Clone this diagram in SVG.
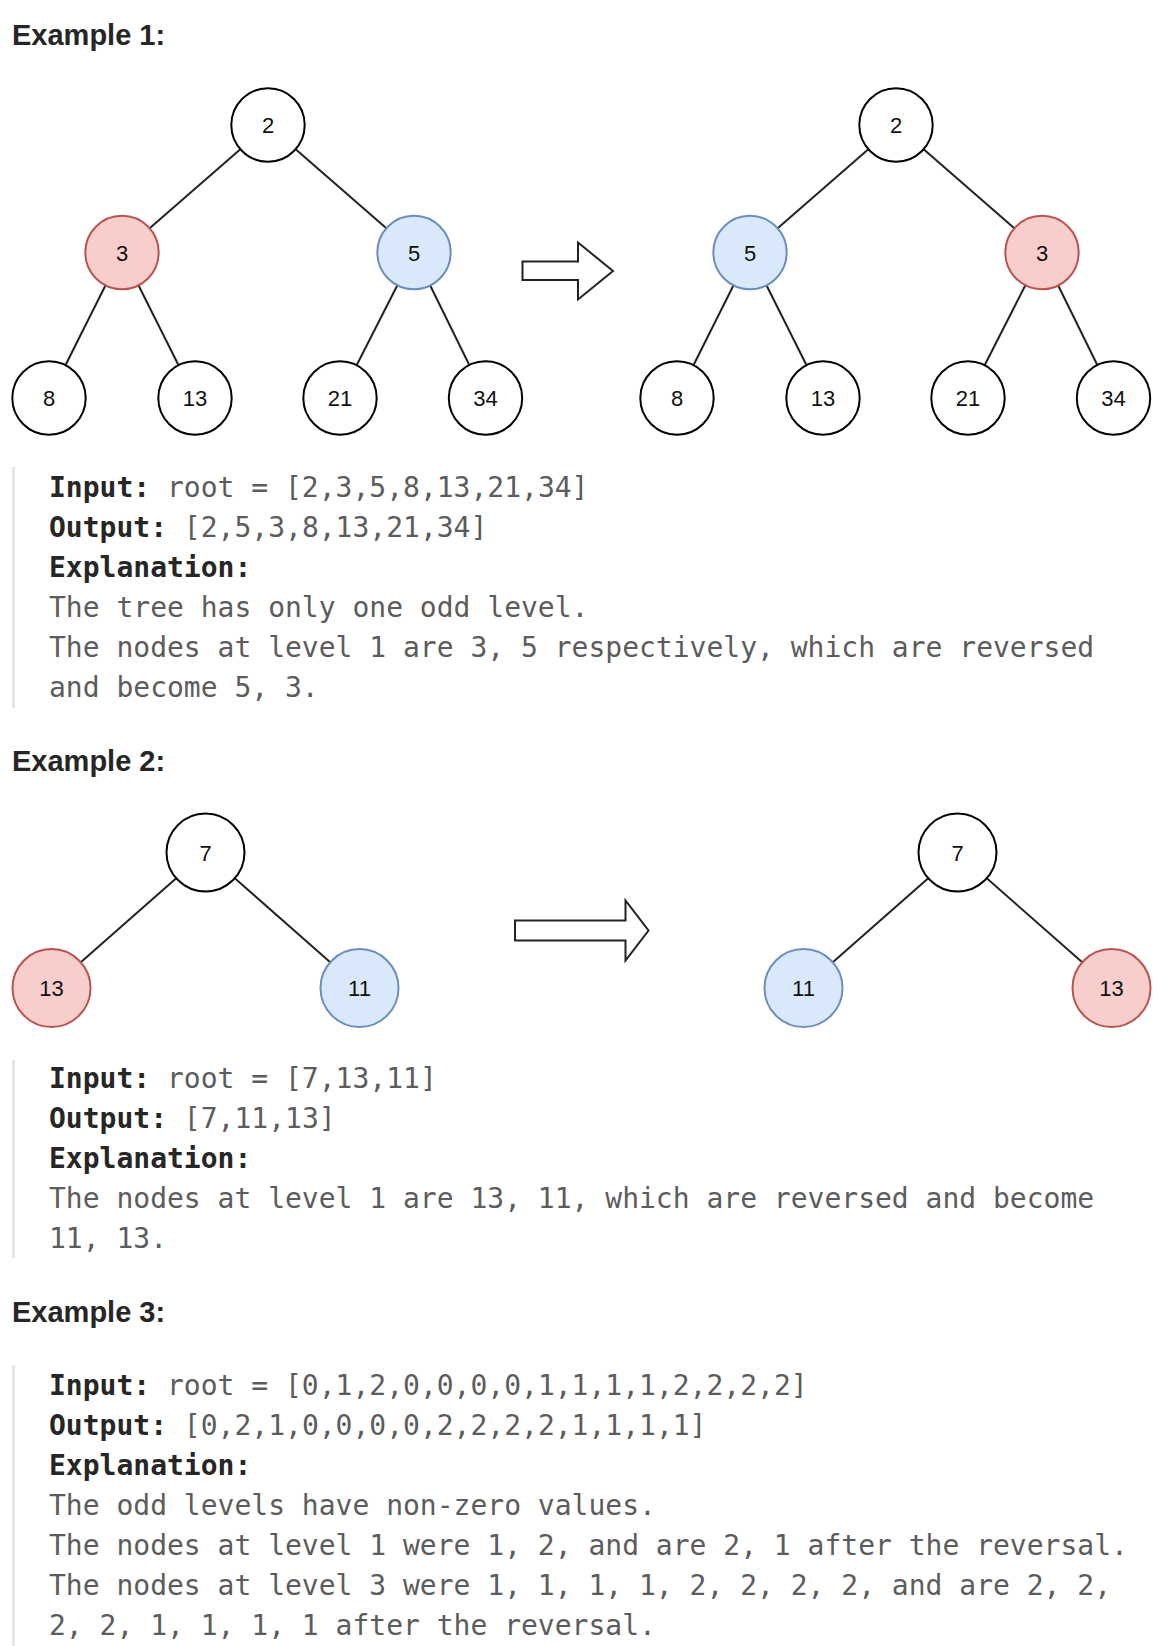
<svg xmlns="http://www.w3.org/2000/svg" width="1166" height="1646" viewBox="0 0 1166 1646">
<style>
.h{font-family:"Liberation Sans",Arial,sans-serif;font-weight:bold;font-size:29px;fill:#262626}
.n{fill:#fff;stroke:#000;stroke-width:2}
.r{fill:#f8cecc;stroke:#b85450;stroke-width:2}
.b{fill:#dae8fc;stroke:#6c8ebf;stroke-width:2}
.t{font-family:"Liberation Sans",Helvetica,Arial,sans-serif;font-size:22px;fill:#111;text-anchor:middle}
.e line{stroke:#222;stroke-width:2}
.arrow{fill:#fff;stroke:#222;stroke-width:2;stroke-linejoin:miter}
.code{font-family:"DejaVu Sans Mono",Menlo,monospace;font-size:28px;fill:#5c5c5c;white-space:pre}
.lbl{font-weight:bold;fill:#262626}
.bar{fill:#e5e5e5}
</style>
<rect width="1166" height="1646" fill="#fff"/>

<text class="h" x="12" y="45">Example 1:</text>
<text class="h" x="12" y="771">Example 2:</text>
<text class="h" x="12" y="1322">Example 3:</text>

<g id="connectors" class="e">
<line x1="240.35" y1="149.14" x2="149.65" y2="228.36"/>
<line x1="295.65" y1="149.14" x2="386.35" y2="228.36"/>
<line x1="105.54" y1="285.3" x2="65.46" y2="365.2"/>
<line x1="138.46" y1="285.3" x2="178.54" y2="365.2"/>
<line x1="397.36" y1="285.21" x2="356.64" y2="365.29"/>
<line x1="430.19" y1="285.44" x2="469.31" y2="365.06"/>
<line x1="868.35" y1="149.14" x2="777.65" y2="228.36"/>
<line x1="923.65" y1="149.14" x2="1014.35" y2="228.36"/>
<line x1="733.54" y1="285.3" x2="693.46" y2="365.2"/>
<line x1="766.46" y1="285.3" x2="806.54" y2="365.2"/>
<line x1="1025.36" y1="285.21" x2="984.64" y2="365.29"/>
<line x1="1058.19" y1="285.44" x2="1097.31" y2="365.06"/>
<line x1="176.22" y1="878.26" x2="80.78" y2="962.24"/>
<line x1="234.78" y1="878.26" x2="330.22" y2="962.24"/>
<line x1="928.22" y1="878.26" x2="832.78" y2="962.24"/>
<line x1="986.78" y1="878.26" x2="1082.22" y2="962.24"/>
</g>

<g id="arrow1"><polygon class="arrow" points="522.5,261.5 578,261.5 578,242.5 613,271 578,299.5 578,280 522.5,280"/></g>
<g id="arrow2"><polygon class="arrow" points="515,920.5 625.5,920.5 625.5,900.5 648.5,930.5 625.5,960.5 625.5,940.5 515,940.5"/></g>

<g id="ex1-left-2"><circle class="n" cx="268" cy="125" r="36.7"/><text class="t" x="268" y="133">2</text></g>
<g id="ex1-left-3"><circle class="r" cx="122" cy="252.5" r="36.7"/><text class="t" x="122" y="260.5">3</text></g>
<g id="ex1-left-5"><circle class="b" cx="414" cy="252.5" r="36.7"/><text class="t" x="414" y="260.5">5</text></g>
<g id="ex1-left-8"><circle class="n" cx="49" cy="398" r="36.7"/><text class="t" x="49" y="406">8</text></g>
<g id="ex1-left-13"><circle class="n" cx="195" cy="398" r="36.7"/><text class="t" x="195" y="406">13</text></g>
<g id="ex1-left-21"><circle class="n" cx="340" cy="398" r="36.7"/><text class="t" x="340" y="406">21</text></g>
<g id="ex1-left-34"><circle class="n" cx="485.5" cy="398" r="36.7"/><text class="t" x="485.5" y="406">34</text></g>

<g id="ex1-right-2"><circle class="n" cx="896" cy="125" r="36.7"/><text class="t" x="896" y="133">2</text></g>
<g id="ex1-right-5"><circle class="b" cx="750" cy="252.5" r="36.7"/><text class="t" x="750" y="260.5">5</text></g>
<g id="ex1-right-3"><circle class="r" cx="1042" cy="252.5" r="36.7"/><text class="t" x="1042" y="260.5">3</text></g>
<g id="ex1-right-8"><circle class="n" cx="677" cy="398" r="36.7"/><text class="t" x="677" y="406">8</text></g>
<g id="ex1-right-13"><circle class="n" cx="823" cy="398" r="36.7"/><text class="t" x="823" y="406">13</text></g>
<g id="ex1-right-21"><circle class="n" cx="968" cy="398" r="36.7"/><text class="t" x="968" y="406">21</text></g>
<g id="ex1-right-34"><circle class="n" cx="1113.5" cy="398" r="36.7"/><text class="t" x="1113.5" y="406">34</text></g>

<g id="ex2-left-7"><circle class="n" cx="205.5" cy="852.5" r="39"/><text class="t" x="205.5" y="860.5">7</text></g>
<g id="ex2-left-13"><circle class="r" cx="51.5" cy="988" r="39"/><text class="t" x="51.5" y="996">13</text></g>
<g id="ex2-left-11"><circle class="b" cx="359.5" cy="988" r="39"/><text class="t" x="359.5" y="996">11</text></g>
<g id="ex2-right-7"><circle class="n" cx="957.5" cy="852.5" r="39"/><text class="t" x="957.5" y="860.5">7</text></g>
<g id="ex2-right-11"><circle class="b" cx="803.5" cy="988" r="39"/><text class="t" x="803.5" y="996">11</text></g>
<g id="ex2-right-13"><circle class="r" cx="1111.5" cy="988" r="39"/><text class="t" x="1111.5" y="996">13</text></g>

<g id="ex1-text">
<rect class="bar" x="12" y="467" width="3" height="241"/>
<text class="code" x="49" y="497"><tspan class="lbl">Input:</tspan> root = [2,3,5,8,13,21,34]</text>
<text class="code" x="49" y="537"><tspan class="lbl">Output:</tspan> [2,5,3,8,13,21,34]</text>
<text class="code" x="49" y="577"><tspan class="lbl">Explanation:</tspan></text>
<text class="code" x="49" y="617">The tree has only one odd level.</text>
<text class="code" x="49" y="657">The nodes at level 1 are 3, 5 respectively, which are reversed</text>
<text class="code" x="49" y="697">and become 5, 3.</text>
</g>

<g id="ex2-text">
<rect class="bar" x="12" y="1060" width="3" height="198"/>
<text class="code" x="49" y="1088"><tspan class="lbl">Input:</tspan> root = [7,13,11]</text>
<text class="code" x="49" y="1128"><tspan class="lbl">Output:</tspan> [7,11,13]</text>
<text class="code" x="49" y="1168"><tspan class="lbl">Explanation:</tspan></text>
<text class="code" x="49" y="1208">The nodes at level 1 are 13, 11, which are reversed and become</text>
<text class="code" x="49" y="1248">11, 13.</text>
</g>

<g id="ex3-text">
<rect class="bar" x="12" y="1365" width="3" height="281"/>
<text class="code" x="49" y="1395"><tspan class="lbl">Input:</tspan> root = [0,1,2,0,0,0,0,1,1,1,1,2,2,2,2]</text>
<text class="code" x="49" y="1435"><tspan class="lbl">Output:</tspan> [0,2,1,0,0,0,0,2,2,2,2,1,1,1,1]</text>
<text class="code" x="49" y="1475"><tspan class="lbl">Explanation:</tspan></text>
<text class="code" x="49" y="1515">The odd levels have non-zero values.</text>
<text class="code" x="49" y="1555">The nodes at level 1 were 1, 2, and are 2, 1 after the reversal.</text>
<text class="code" x="49" y="1595">The nodes at level 3 were 1, 1, 1, 1, 2, 2, 2, 2, and are 2, 2,</text>
<text class="code" x="49" y="1635">2, 2, 1, 1, 1, 1 after the reversal.</text>
</g>
</svg>
